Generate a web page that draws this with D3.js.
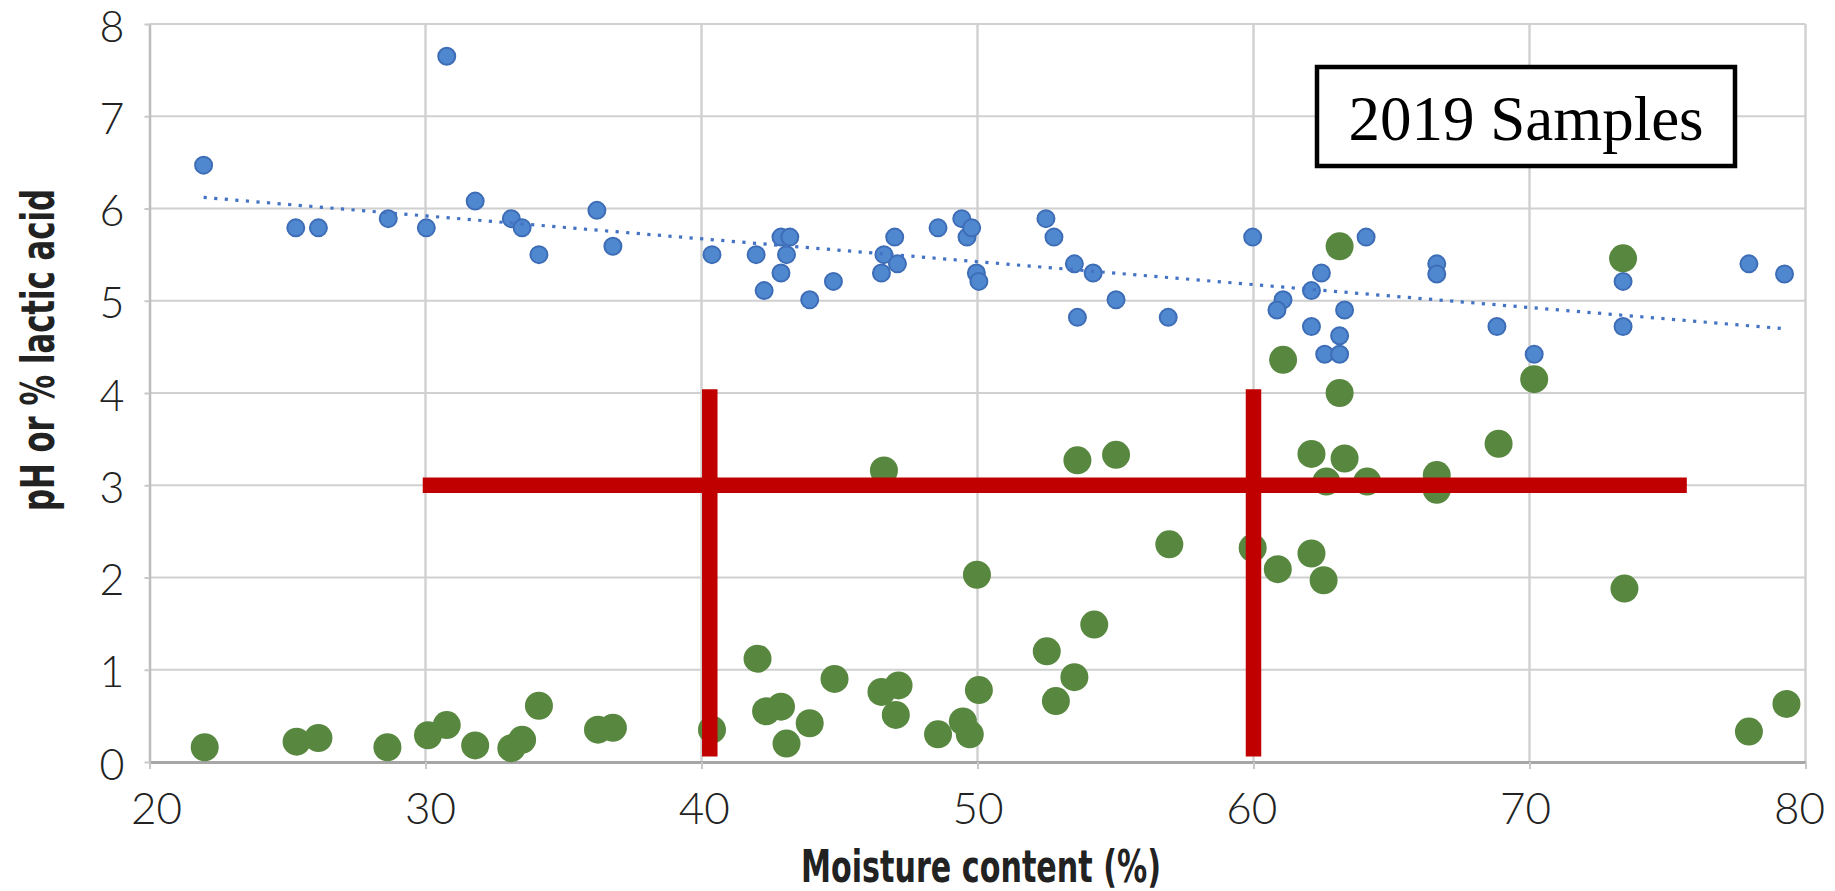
<!DOCTYPE html>
<html>
<head>
<meta charset="utf-8">
<script src="https://cdn.jsdelivr.net/npm/d3@7"></script>
<style>
  body { margin: 0; background: #fff; }
  svg { display: block; }
</style>
</head>
<body>
<div id="chart"></div>
<script>
// pH readings (blue) — [moisture %, pH]
var phPoints = [
  [21.96, 6.47], [25.30, 5.79], [26.12, 5.79], [28.65, 5.89], [30.03, 5.79],
  [30.77, 7.65], [31.80, 6.08], [33.11, 5.89], [33.50, 5.79], [34.11, 5.50],
  [36.21, 5.98], [36.79, 5.59],
  [40.38, 5.50], [41.98, 5.50], [42.27, 5.11], [42.88, 5.69], [43.20, 5.69],
  [43.08, 5.50], [42.88, 5.30], [43.92, 5.01], [44.78, 5.21], [46.52, 5.30],
  [46.61, 5.50], [47.00, 5.69], [47.10, 5.40], [48.57, 5.79], [49.43, 5.89],
  [49.62, 5.69], [49.79, 5.79], [49.96, 5.30], [50.05, 5.21], [52.48, 5.89],
  [52.77, 5.69], [53.51, 5.40], [53.62, 4.82], [54.19, 5.30], [55.02, 5.01],
  [56.91, 4.82],
  [59.97, 5.69], [64.08, 5.69], [62.46, 5.30], [62.10, 5.11], [61.07, 5.01],
  [60.85, 4.90], [63.30, 4.90], [62.10, 4.72], [63.12, 4.62], [62.58, 4.42],
  [63.12, 4.42], [66.64, 5.40], [66.64, 5.29], [68.82, 4.72], [70.17, 4.42],
  [73.39, 5.21], [73.39, 4.72], [77.95, 5.40], [79.24, 5.29]
];

// lactic acid readings (green) — [moisture %, % lactic acid]
var lacticPoints = [
  [22.00, 0.16], [25.33, 0.22], [26.12, 0.26], [28.62, 0.16], [30.09, 0.29],
  [30.77, 0.40], [31.80, 0.18], [33.11, 0.15], [33.50, 0.24], [34.11, 0.61],
  [36.25, 0.35], [36.79, 0.37],
  [40.38, 0.35], [42.03, 1.12], [42.34, 0.55], [42.88, 0.60], [43.08, 0.20],
  [43.92, 0.42], [44.82, 0.90], [46.52, 0.76], [47.14, 0.83], [47.04, 0.51],
  [46.61, 3.16], [48.57, 0.30], [49.47, 0.44], [49.72, 0.30], [50.05, 0.78],
  [49.98, 2.03], [52.51, 1.20], [52.84, 0.66], [53.51, 0.92], [54.23, 1.49],
  [53.62, 3.27], [55.02, 3.33], [56.95, 2.36],
  [62.10, 3.34], [63.30, 3.29], [62.64, 3.04], [64.12, 3.04], [66.64, 3.11],
  [66.64, 2.95], [68.88, 3.45], [59.97, 2.32], [60.88, 2.09], [62.10, 2.26],
  [62.54, 1.97], [73.44, 1.88], [77.95, 0.33], [79.31, 0.63],
  [63.12, 5.59], [61.07, 4.36], [63.12, 4.00], [73.39, 5.46], [70.17, 4.15]
];

var xTicks = [20, 30, 40, 50, 60, 70, 80];
var yTicks = [0, 1, 2, 3, 4, 5, 6, 7, 8];

// red marker lines drawn over the chart
var markerLines = [
  {x1: 29.9, x2: 75.7, y1: 3.0, y2: 3.0},
  {x1: 40.3, x2: 40.3, y1: 0.06, y2: 4.04},
  {x1: 60.0, x2: 60.0, y1: 0.06, y2: 4.04}
];

var titleText = "2019 Samples";
var xTitle = "Moisture content (%)";
var yTitle = "pH or % lactic acid";

var W = 1835, H = 891;
var margin = {top: 24, right: 29.5, bottom: 129, left: 149.5};
var width = W - margin.left - margin.right;
var height = H - margin.top - margin.bottom;

var x = d3.scaleLinear().domain([20, 80]).range([0, width]);
var y = d3.scaleLinear().domain([0, 8]).range([height, 0]);

var svg = d3.select("#chart").append("svg")
  .attr("width", W)
  .attr("height", H);

svg.append("rect").attr("width", W).attr("height", H).attr("fill", "#fff");

var g = svg.append("g")
  .attr("transform", "translate(" + margin.left + "," + margin.top + ")");

// gridlines
g.append("g").selectAll("line").data(yTicks.slice(1)).enter().append("line")
  .attr("x1", 0).attr("x2", width)
  .attr("y1", function (d) { return y(d); })
  .attr("y2", function (d) { return y(d); })
  .attr("stroke", "#d0d0d0").attr("stroke-width", 2.2);

g.append("g").selectAll("line").data(xTicks.slice(1)).enter().append("line")
  .attr("x1", function (d) { return x(d); })
  .attr("x2", function (d) { return x(d); })
  .attr("y1", 0).attr("y2", height)
  .attr("stroke", "#d0d0d0").attr("stroke-width", 2.4);

// axes
var xAxis = g.append("g")
  .attr("transform", "translate(0," + height + ")")
  .call(d3.axisBottom(x).tickValues(xTicks).tickSize(7).tickSizeOuter(0).tickPadding(24));
xAxis.select(".domain").attr("stroke", "#a6a6a6").attr("stroke-width", 3);
xAxis.selectAll(".tick line").attr("stroke", "#c8c8c8").attr("stroke-width", 2);
xAxis.selectAll("text")
  .attr("fill", "#222")
  .attr("dx", function (d) { return (50 - d) * 0.22; })
  .style("font-family", "Lato, 'Open Sans', sans-serif")
  .style("font-weight", 300)
  .style("font-size", "44px");

var yAxis = g.append("g")
  .call(d3.axisLeft(y).tickValues(yTicks).tickSize(5).tickSizeOuter(0).tickPadding(20));
yAxis.select(".domain").attr("stroke", "#bdbdbd").attr("stroke-width", 2.5);
yAxis.selectAll(".tick line").attr("stroke", "#c8c8c8").attr("stroke-width", 2);
yAxis.selectAll("text")
  .attr("fill", "#222")
  .attr("dy", "0.4em")
  .style("font-family", "Lato, 'Open Sans', sans-serif")
  .style("font-weight", 300)
  .style("font-size", "43px");

// pH points
g.append("g").selectAll("circle").data(phPoints).enter().append("circle")
  .attr("cx", function (d) { return x(d[0]); })
  .attr("cy", function (d) { return y(d[1]); })
  .attr("r", 8.5)
  .attr("fill", "#5088cf")
  .attr("stroke", "#3d6db6")
  .attr("stroke-width", 2);

// linear trendline for pH
var mx = d3.mean(phPoints, function (d) { return d[0]; });
var my = d3.mean(phPoints, function (d) { return d[1]; });
var slope = d3.sum(phPoints, function (d) { return (d[0] - mx) * (d[1] - my); }) /
            d3.sum(phPoints, function (d) { return (d[0] - mx) * (d[0] - mx); });
var xr = d3.extent(phPoints, function (d) { return d[0]; });
var trend = xr.map(function (v) { return [v, my + slope * (v - mx)]; });

g.append("path")
  .datum(trend)
  .attr("d", d3.line()
    .x(function (d) { return x(d[0]); })
    .y(function (d) { return y(d[1]); }))
  .attr("fill", "none")
  .attr("stroke", "#4472c4")
  .attr("stroke-width", 3.2)
  .attr("stroke-dasharray", "3.2,7.4");

// lactic acid points
g.append("g").selectAll("circle").data(lacticPoints).enter().append("circle")
  .attr("cx", function (d) { return x(d[0]); })
  .attr("cy", function (d) { return y(d[1]); })
  .attr("r", 14)
  .attr("fill", "#58873f");

// red marker lines
g.append("g").selectAll("line").data(markerLines).enter().append("line")
  .attr("x1", function (d) { return x(d.x1); })
  .attr("x2", function (d) { return x(d.x2); })
  .attr("y1", function (d) { return y(d.y1); })
  .attr("y2", function (d) { return y(d.y2); })
  .attr("stroke", "#c00000")
  .attr("stroke-width", 15.5);

// title box
var box = svg.append("g");
box.append("rect")
  .attr("x", 1317).attr("y", 67)
  .attr("width", 418).attr("height", 99)
  .attr("fill", "#fff")
  .attr("stroke", "#000")
  .attr("stroke-width", 4.5);
box.append("text")
  .attr("x", 1526).attr("y", 140)
  .attr("text-anchor", "middle")
  .style("font-family", "'Liberation Serif', 'Times New Roman', serif")
  .style("font-size", "63px")
  .attr("fill", "#000")
  .text(titleText);

// axis titles
svg.append("text")
  .attr("x", 981).attr("y", 882)
  .attr("text-anchor", "middle")
  .attr("textLength", 360)
  .attr("lengthAdjust", "spacingAndGlyphs")
  .style("font-family", "'Liberation Sans Narrow', 'DejaVu Sans Condensed', sans-serif")
  .style("font-weight", "bold")
  .style("font-size", "44px")
  .attr("fill", "#222")
  .text(xTitle);

svg.append("text")
  .attr("transform", "translate(54,350) rotate(-90)")
  .attr("text-anchor", "middle")
  .attr("textLength", 322)
  .attr("lengthAdjust", "spacingAndGlyphs")
  .style("font-family", "'Liberation Sans Narrow', 'DejaVu Sans Condensed', sans-serif")
  .style("font-weight", "bold")
  .style("font-size", "46px")
  .attr("fill", "#222")
  .text(yTitle);
</script>
</body>
</html>
